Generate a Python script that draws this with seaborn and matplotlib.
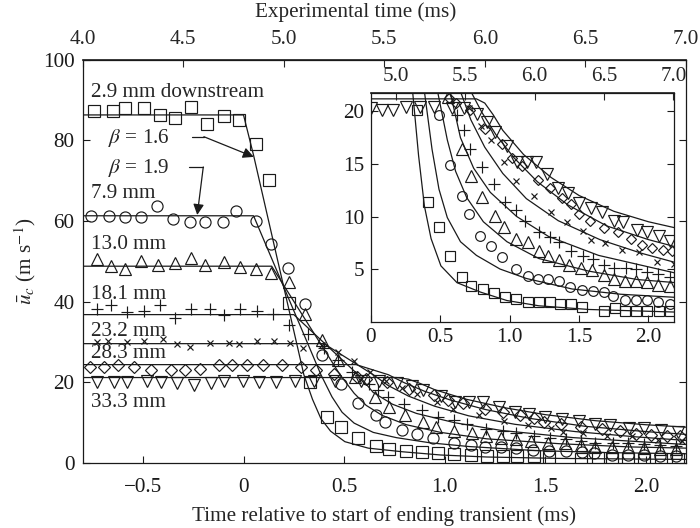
import numpy as np
import pandas as pd
import matplotlib
matplotlib.use("Agg")
import matplotlib.pyplot as plt
import seaborn as sns

sns.set_theme(style="ticks")
plt.rcParams['font.family'] = ['Liberation Serif', 'DejaVu Serif']
plt.rcParams['mathtext.fontset'] = 'stix'

# ---------------- data ----------------
labels = ["2.9 mm downstream", "7.9 mm", "13.0 mm", "18.1 mm", "23.2 mm", "28.3 mm", "33.3 mm"]
label_y = [91.8, 66.8, 54.3, 41.9, 32.7, 27.1, 14.9]

sq_x = [-0.743, -0.649, -0.589, -0.495, -0.416, -0.343, -0.262, -0.180, -0.099, -0.021, 0.061, 0.129, 0.228,
        0.331, 0.414, 0.487, 0.567, 0.657, 0.723, 0.806, 0.887, 0.965, 1.047, 1.130, 1.213, 1.291, 1.362,
        1.442, 1.520, 1.678, 1.761, 1.832, 1.910, 1.993, 2.076, 2.158]
sq_y = [87.2, 87.2, 87.9, 87.9, 86.2, 85.6, 88.2, 84.0, 86.0, 85.1, 79.2, 70.1, 39.6,
        20.1, 11.4, 8.96, 6.2, 4.21, 3.42, 3.10, 2.69, 2.37, 2.15, 1.90, 1.84, 1.84, 1.65,
        1.68, 1.42, 1.04, 1.27, 1.04, 1.04, 1.04, 1.04, 1.04]

ci_x = [-0.756, -0.671, -0.589, -0.511, -0.428, -0.349, -0.268, -0.189, -0.101, -0.035, 0.060, 0.137, 0.222,
        0.308, 0.391, 0.487, 0.567, 0.657, 0.704, 0.787, 0.865, 0.941, 1.047, 1.130, 1.201, 1.279, 1.355,
        1.438, 1.520, 1.603, 1.681, 1.745, 1.832, 1.910, 1.993, 2.069, 2.152]
ci_y = [61.3, 61.3, 61.0, 61.0, 63.7, 60.6, 59.8, 59.8, 59.8, 62.6, 60.0, 54.3, 48.4,
        39.4, 26.8, 19.7, 14.9, 12.0, 10.2, 8.16, 7.15, 6.17, 5.0, 4.36, 4.05, 4.05, 3.83,
        3.26, 3.04, 2.88, 2.85, 2.41, 2.06, 2.06, 2.06, 1.84, 1.68]

tr_x = [-0.726, -0.657, -0.589, -0.511, -0.425, -0.343, -0.260, -0.189, -0.098, -0.015, 0.060, 0.137, 0.225,
        0.308, 0.391, 0.47, 0.553, 0.655, 0.723, 0.803, 0.894, 0.957, 1.047, 1.135, 1.208, 1.279, 1.355,
        1.430, 1.515, 1.596, 1.678, 1.749, 1.832, 1.910, 1.993, 2.069, 2.152]
tr_y = [50.5, 48.8, 48.0, 50.1, 49.1, 49.6, 50.9, 49.2, 49.9, 48.7, 48.1, 47.0, 44.8,
        36.9, 30.5, 25.5, 21.4, 16.4, 13.85, 11.86, 10.06, 8.96, 7.85, 7.53, 6.68, 6.2, 5.85,
        5.41, 5.07, 4.9, 4.43, 4.05, 3.89, 3.89, 3.74, 3.51, 3.42]

pl_x = [-0.730, -0.660, -0.577, -0.495, -0.417, -0.343, -0.260, -0.167, -0.098, -0.015, 0.068, 0.147, 0.225,
        0.319, 0.40, 0.47, 0.54, 0.622, 0.669, 0.716, 0.799, 0.887, 0.965, 1.047, 1.113, 1.208, 1.289,
        1.355, 1.442, 1.525, 1.603, 1.678, 1.749, 1.839, 1.910, 1.993, 2.069, 2.152]
pl_y = [38.2, 39.2, 37.5, 37.7, 39.2, 36.0, 38.2, 38.2, 36.7, 38.2, 37.7, 36.9, 34.2,
        32.1, 28.5, 25.5, 22.6, 19.7, 18.2, 16.4, 14.7, 13.1, 11.4, 10.6, 9.6, 8.5, 8.06,
        7.53, 6.68, 6.2, 6.0, 5.38, 5.07, 5.07, 5.0, 4.69, 4.53, 4.21]

xx_x = [-0.730, -0.672, -0.577, -0.495, -0.399, -0.329, -0.266, -0.167, -0.073, -0.023, 0.068, 0.150, 0.233,
        0.296, 0.391, 0.47, 0.55, 0.63, 0.71, 0.79, 0.863, 0.960, 1.043, 1.172, 1.296, 1.414, 1.527,
        1.587, 1.686, 1.809, 1.934, 2.059, 2.182]
xx_y = [30.1, 30.2, 29.9, 30.3, 30.7, 29.5, 28.8, 29.8, 29.8, 29.5, 30.2, 30.2, 29.8,
        28.4, 29.3, 27.5, 25.3, 22.5, 20.3, 18.6, 17.24, 15.18, 13.38, 11.95, 10.44, 9.49, 8.63,
        7.78, 7.47, 6.8, 6.64, 5.64, 5.47]

di_x = [-0.763, -0.693, -0.622, -0.544, -0.458, -0.362, -0.293, -0.217, -0.123, -0.056, 0.015, 0.098, 0.192,
        0.286, 0.362, 0.452, 0.563, 0.610, 0.711, 0.823, 0.946, 1.017, 1.090, 1.201, 1.289, 1.374, 1.442,
        1.496, 1.579, 1.678, 1.780, 1.874, 1.950, 2.028, 2.104, 2.170]
di_y = [23.9, 23.9, 24.3, 23.9, 23.0, 23.0, 23.0, 23.2, 24.3, 24.3, 24.3, 24.3, 24.3,
        23.9, 23.0, 22.2, 21.3, 20.8, 20.1, 18.3, 16.9, 15.6, 14.8, 13.5, 12.75, 11.8, 11.17,
        10.22, 9.58, 8.86, 8.48, 7.85, 7.28, 6.96, 6.83, 6.68]

td_x = [-0.726, -0.646, -0.577, -0.481, -0.412, -0.333, -0.247, -0.164, -0.098, -0.001, 0.078, 0.161, 0.255,
        0.350, 0.456, 0.586, 0.674, 0.764, 0.839, 0.894, 0.981, 1.052, 1.123, 1.189, 1.272, 1.348, 1.421,
        1.501, 1.584, 1.667, 1.749, 1.820, 1.915, 1.993, 2.076, 2.158]
td_y = [20.1, 20.1, 20.1, 20.4, 20.1, 19.8, 19.3, 19.8, 20.3, 20.3, 20.1, 20.1, 20.4,
        20.4, 20.4, 20.3, 20.3, 19.8, 19.0, 18.0, 16.7, 15.2, 15.2, 15.2, 14.0, 12.75, 12.2,
        11.33, 10.85, 10.44, 9.58, 9.43, 8.73, 8.57, 8.16, 7.63]

# model curves
sq_lx = [-0.8, 0.0, 0.05, 0.30, 0.343, 0.385, 0.433, 0.504, 0.62, 0.79, 0.98, 1.21, 1.57, 2.2]
sq_ly = [86.3, 86.3, 76.3, 21.9, 15.8, 11.0, 7.9, 5.3, 3.7, 2.8, 2.0, 1.5, 1.15, 0.9]
ci_lx = [-0.8, 0.05, 0.385, 0.44, 0.49, 0.55, 0.645, 0.76, 0.93, 1.12, 1.45, 1.8, 2.2]
ci_ly = [61.3, 61.3, 21.9, 16.4, 12.6, 9.9, 7.6, 6.3, 5.0, 4.1, 3.1, 2.6, 2.3]
tr_lx = [-0.8, 0.14, 0.48, 0.55, 0.61, 0.69, 0.81, 0.98, 1.21, 1.57, 1.92, 2.2]
tr_ly = [48.8, 48.8, 21.9, 17.3, 14.3, 11.8, 9.5, 7.6, 6.0, 4.8, 4.0, 3.7]
pl_lx = [-0.8, 0.25, 0.57, 0.645, 0.74, 0.86, 1.05, 1.28, 1.64, 2.2]
pl_ly = [36.8, 36.8, 21.9, 17.5, 14.6, 12.3, 10.0, 8.1, 6.3, 4.6]
xx_lx = [-0.8, 0.40, 0.645, 0.72, 0.82, 0.95, 1.12, 1.35, 1.65, 1.95, 2.2]
xx_ly = [29.6, 29.6, 21.9, 19.2, 16.6, 14.1, 11.7, 9.6, 7.8, 6.5, 5.6]
di_lx = [-0.8, 0.56, 0.72, 0.80, 0.90, 1.03, 1.2, 1.42, 1.7, 2.0, 2.2]
di_ly = [24.4, 24.4, 21.9, 19.9, 17.8, 15.6, 13.3, 11.1, 9.1, 7.8, 7.1]
td_lx = [-0.8, 0.76, 0.82, 0.88, 0.95, 1.1, 1.3, 1.5, 1.75, 2.0, 2.2]
td_ly = [21.2, 21.2, 20.8, 19.7, 18.2, 15.9, 13.7, 12.0, 10.5, 9.5, 8.9]

main_xticks = [-0.5, 0, 0.5, 1.0, 1.5, 2.0]
main_xticklabels = ["\u22120.5", "0", "0.5", "1.0", "1.5", "2.0"]
main_yticks = [0, 20, 40, 60, 80, 100]
top_ticks = [4.0, 4.5, 5.0, 5.5, 6.0, 6.5, 7.0]
inset_xticks = [0, 0.5, 1.0, 1.5, 2.0]
inset_xticklabels = ["0", "0.5", "1.0", "1.5", "2.0"]
inset_yticks = [5, 10, 15, 20]
inset_top_ticks = [5.0, 5.5, 6.0, 6.5, 7.0]
OFFSET = 4.8
OFFSET_INSET = 4.82

series = [
    (sq_x, sq_y, sq_lx, sq_ly, 's', 8.5, 7.0),
    (ci_x, ci_y, ci_lx, ci_ly, 'o', 8.0, 7.0),
    (tr_x, tr_y, tr_lx, tr_ly, '^', 9.0, 8.0),
    (pl_x, pl_y, pl_lx, pl_ly, '+', 9.0, 8.0),
    (xx_x, xx_y, xx_lx, xx_ly, 'x', 4.5, 4.0),
    (di_x, di_y, di_lx, di_ly, 'D', 6.3, 5.6),
    (td_x, td_y, td_lx, td_ly, 'v', 9.0, 8.0),
]

FS = 15.2
fig = plt.figure(figsize=(7.0, 5.28), dpi=100)
ax = fig.add_axes([0.118, 0.123, 0.862, 0.764])
axi = fig.add_axes([0.530, 0.391, 0.433, 0.4337])

def draw(a, big):
    for (x, y, lx, ly, m, ms_big, ms_small) in series:
        ms = ms_big if big else ms_small
        sns.lineplot(x=lx, y=ly, ax=a, color='k', lw=0.9, estimator=None, sort=False, zorder=2)
        fc = 'k' if m in ('+', 'x') else 'none'
        sns.lineplot(x=x, y=y, ax=a, color='k', linestyle='', marker=m, markersize=ms,
                     markerfacecolor=fc, markeredgecolor='k', markeredgewidth=0.85,
                     estimator=None, sort=False, zorder=3)

draw(ax, True)
draw(axi, False)

for a in (ax, axi):
    for s in a.spines.values():
        s.set_visible(True)
        s.set_color('k')
        s.set_linewidth(0.9)
    a.set_facecolor('white')
    a.tick_params(direction='in', length=5, width=0.8, colors='k', labelsize=FS,
                  top=False, right=True, labelright=False)

# main axis
ax.set_xlim(-0.8, 2.2)
ax.set_ylim(0, 100)
ax.set_xticks(main_xticks)
ax.set_xticklabels(main_xticklabels)
ax.set_yticks(main_yticks)
ax.tick_params(axis='x', pad=11)
ax.tick_params(axis='y', pad=6)
ax.set_xlabel("Time relative to start of ending transient (ms)", fontsize=FS, labelpad=6)
ax.set_ylabel(r"$\bar{u}_c$ (m s$^{-1}$)", fontsize=FS, labelpad=3)
sec = ax.secondary_xaxis('top', functions=(lambda v: v + OFFSET, lambda v: v - OFFSET))
sec.set_xticks(top_ticks)
sec.set_xticklabels([f"{t:.1f}" for t in top_ticks])
sec.tick_params(direction='in', length=5, width=0.8, labelsize=FS, pad=8)
sec.set_xlabel("Experimental time (ms)", fontsize=FS, labelpad=9)
sec.xaxis.label.set_x(0.452)

for lab, ly in zip(labels, label_y):
    ax.text(-0.76, ly, lab, fontsize=FS, ha='left', va='center', zorder=4)

# beta annotations
ax.text(-0.676, 80.5, r"$\beta$ = 1.6", fontsize=FS, ha='left', va='center')
ax.text(-0.676, 73.1, r"$\beta$ = 1.9", fontsize=FS, ha='left', va='center')
ax.plot([-0.255, -0.197], [80.9, 80.9], color='k', lw=0.9)
ax.annotate("", xy=(0.051, 75.9), xytext=(-0.197, 80.9),
            arrowprops=dict(arrowstyle='-|>', color='k', lw=0.9, mutation_scale=16, shrinkA=0, shrinkB=0))
ax.plot([-0.271, -0.2], [73.4, 73.4], color='k', lw=0.9)
ax.annotate("", xy=(-0.23, 61.5), xytext=(-0.2, 73.4),
            arrowprops=dict(arrowstyle='-|>', color='k', lw=0.9, mutation_scale=16, shrinkA=0, shrinkB=0))

# inset
axi.set_xlim(0, 2.185)
axi.set_ylim(0, 21.8)
axi.set_xticks(inset_xticks)
axi.set_xticklabels(inset_xticklabels)
axi.set_yticks(inset_yticks)
axi.tick_params(axis='both', pad=5)
axi.set_xlabel("")
axi.set_ylabel("")
seci = axi.secondary_xaxis('top', functions=(lambda v: v + OFFSET_INSET, lambda v: v - OFFSET_INSET))
seci.set_xticks(inset_top_ticks)
seci.set_xticklabels([f"{t:.1f}" for t in inset_top_ticks])
seci.tick_params(direction='in', length=5, width=0.8, labelsize=FS, pad=5)

fig.savefig("out.png", dpi=100)
